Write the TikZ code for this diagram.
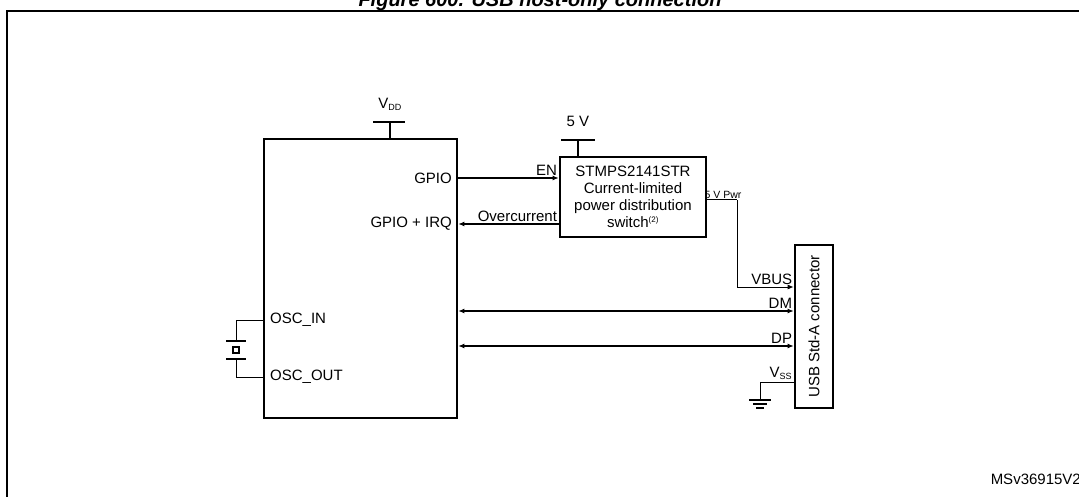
\documentclass[tikz,border=0pt]{standalone}
\usepackage{fontspec}
\setmainfont{Liberation Sans}
\usetikzlibrary{arrows.meta}
\begin{document}
\begin{tikzpicture}[x=1pt,y=-1pt,
    lbl/.style={inner sep=1pt,font=\fontsize{15}{17}\selectfont},
    sig/.style={line width=1.4pt,-{Latex[length=6pt,width=5pt]}},
    bus/.style={line width=1.4pt,{Latex[length=6pt,width=5pt]}-{Latex[length=6pt,width=5pt]}},
    blk/.style={draw,line width=2.6pt,inner sep=0pt}]

    \useasboundingbox (0,0) rectangle (1079,497);

    % title and frame
    \node[font=\fontsize{20}{22}\bfseries\itshape\selectfont,anchor=base,inner sep=0pt] (title) at (540,7) {Figure 600. USB host-only connection};
    \draw[line width=1.5pt] (7,510) -- (7,11) -- (1090,11);
    \node[lbl,anchor=south east,inner sep=0pt] (ref) at (1081,485) {MSv36915V2};

    % blocks
    \node[blk,minimum width=193pt,minimum height=279pt] (mcu) at (360.5,278.5) {};
    \node[blk,minimum width=146pt,minimum height=80pt,align=center,lbl,inner sep=0pt] (sw) at (633,197)
        {STMPS2141STR\\Current-limited\\power distribution\\switch\textsuperscript{\fontsize{8}{9}\selectfont(2)}};
    \node[blk,minimum width=38pt,minimum height=163pt] (usb) at (814,326.5) {};
    \node[lbl,rotate=90] (usbtxt) at (usb.center) {USB Std-A connector};

    % supplies
    \coordinate (vdd) at (390,122);
    \draw[line width=1.6pt] (mcu.north -| vdd) -- (vdd) (373,122) -- (405,122);
    \node[lbl] (vddl) at (390,104) {V\textsubscript{\fontsize{9}{10}\selectfont DD}};
    \coordinate (fivev) at (578,140);
    \draw[line width=1.6pt] (sw.north -| fivev) -- (fivev) (561,140) -- (595,140);
    \node[lbl] (fivevl) at (578,121) {5 V};

    % pins
    \node[lbl,anchor=east] (gpio) at (453,178) {GPIO};
    \node[lbl,anchor=east] (irq) at (453,224) {GPIO + IRQ};
    \node[lbl,anchor=west] (oscin) at (269,320) {OSC\_IN};
    \node[lbl,anchor=west] (oscout) at (269,377) {OSC\_OUT};

    % switch signals
    \draw[sig] (mcu.east |- gpio) -- (sw.west |- gpio) node[lbl,pos=1,above left,yshift=1pt] {EN};
    \draw[sig] (sw.west |- irq) -- (mcu.east |- irq) node[lbl,pos=0,above left,yshift=1pt] {Overcurrent};
    \coordinate (pwr) at (737,200);
    \draw[line width=1pt] (sw.east |- pwr) -- (pwr);
    \node[anchor=south,inner sep=1pt,font=\fontsize{10.5}{12}\selectfont] (pwrl) at (723,200) {5 V Pwr};
    \draw[sig,line width=1pt] (pwr) |- (usb.west |- 0,287) node[lbl,pos=1,above left,yshift=1pt] {VBUS};

    % data lines
    \draw[bus] (mcu.east |- 0,311) -- (usb.west |- 0,311) node[lbl,pos=1,above left,yshift=1pt] {DM};
    \draw[bus] (mcu.east |- 0,346) -- (usb.west |- 0,346) node[lbl,pos=1,above left,yshift=1pt] {DP};

    % ground
    \coordinate (gnd) at (760,400);
    \draw[line width=1pt] (usb.west |- 0,382) node[lbl,above left,yshift=1pt] {V\textsubscript{\fontsize{9}{10}\selectfont SS}} -| (gnd);
    \draw[line width=1.2pt] (749,400) -- (771,400) (753,404) -- (767,404) (756,408) -- (764,408);

    % crystal
    \coordinate (xin) at (236,341);
    \coordinate (xout) at (236,359);
    \draw[line width=1pt] (mcu.west |- oscin) -| (xin) (mcu.west |- oscout) -| (xout);
    \draw[line width=1.5pt] (226,341) -- (246,341) (226,359) -- (246,359);
    \draw[line width=1.2pt] (233,347) rectangle (239,353);
\end{tikzpicture}
\end{document}
